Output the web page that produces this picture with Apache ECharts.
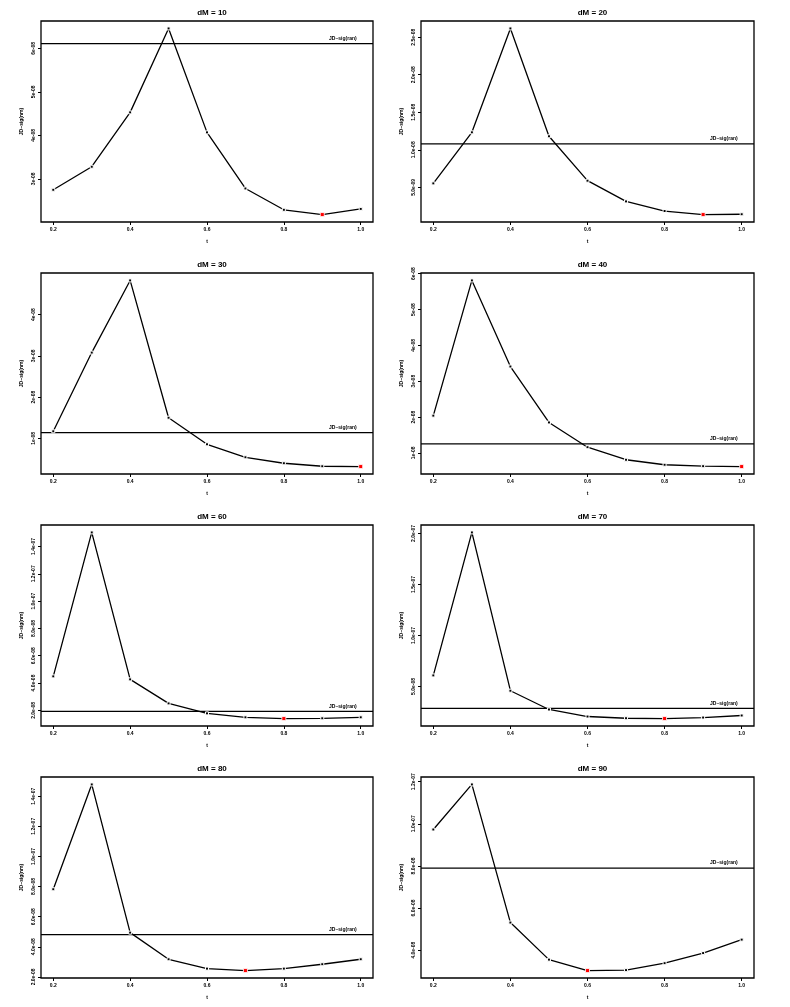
<!DOCTYPE html>
<html>
<head>
<meta charset="utf-8">
<script src="https://cdn.jsdelivr.net/npm/echarts@6/dist/echarts.min.js"></script>
<style>
  body { margin: 0; background: #fff; }
  #main { width: 790px; height: 1007px; }
</style>
</head>
<body>
<div id="main"></div>
<script>
    // x values shared by every panel
    const tVals = [0.2, 0.3, 0.4, 0.5, 0.6, 0.7, 0.8, 0.9, 1.0];
    const xTicks = [0.2, 0.4, 0.6, 0.8, 1.0];

    const titles = ['dM = 10', 'dM = 20', 'dM = 30', 'dM = 40', 'dM = 60', 'dM = 70', 'dM = 80', 'dM = 90'];

    // JD~sig(nm) per t, one array per panel
    const jdDM10 = [2.75e-8, 3.28e-8, 4.53e-8, 6.46e-8, 4.07e-8, 2.78e-8, 2.29e-8, 2.18e-8, 2.31e-8];
    const jdDM20 = [5.53e-9, 1.233e-8, 2.616e-8, 1.18e-8, 5.89e-9, 3.13e-9, 1.85e-9, 1.38e-9, 1.42e-9];
    const jdDM30 = [1.17e-8, 3.08e-8, 4.83e-8, 1.50e-8, 8.55e-9, 5.4e-9, 3.95e-9, 3.22e-9, 3.15e-9];
    const jdDM40 = [2.04e-8, 5.81e-8, 3.41e-8, 1.85e-8, 1.16e-8, 8.1e-9, 6.7e-9, 6.3e-9, 6.2e-9];
    const jdDM60 = [4.49e-8, 1.503e-7, 4.27e-8, 2.51e-8, 1.78e-8, 1.49e-8, 1.40e-8, 1.42e-8, 1.49e-8];
    const jdDM70 = [6.08e-8, 2.01e-7, 4.58e-8, 2.74e-8, 2.05e-8, 1.88e-8, 1.85e-8, 1.95e-8, 2.15e-8];
    const jdDM80 = [7.82e-8, 1.478e-7, 4.94e-8, 3.17e-8, 2.55e-8, 2.42e-8, 2.55e-8, 2.84e-8, 3.17e-8];
    const jdDM90 = [9.73e-8, 1.187e-7, 5.31e-8, 3.55e-8, 3.03e-8, 3.05e-8, 3.38e-8, 3.86e-8, 4.50e-8];

    // JD~sig(ran) reference level per panel
    const ranLevels = [6.11e-8, 1.079e-8, 1.14e-8, 1.25e-8, 1.93e-8, 2.84e-8, 4.81e-8, 7.90e-8];
    // index of the highlighted (minimum) point
    const minIdx = [7, 7, 8, 8, 6, 6, 5, 4];

    // y tick values and their labels
    const yTicks10 = [2e-8, 3e-8, 4e-8, 5e-8, 6e-8];
    const yLabs10 = ['2e-08', '3e-08', '4e-08', '5e-08', '6e-08'];
    const yTicks20 = [5e-9, 1e-8, 1.5e-8, 2e-8, 2.5e-8];
    const yLabs20 = ['5.0e-09', '1.0e-08', '1.5e-08', '2.0e-08', '2.5e-08'];
    const yTicks30 = [1e-8, 2e-8, 3e-8, 4e-8];
    const yLabs30 = ['1e-08', '2e-08', '3e-08', '4e-08'];
    const yTicks40 = [1e-8, 2e-8, 3e-8, 4e-8, 5e-8, 6e-8];
    const yLabs40 = ['1e-08', '2e-08', '3e-08', '4e-08', '5e-08', '6e-08'];
    const yTicks60 = [2e-8, 4e-8, 6e-8, 8e-8, 1e-7, 1.2e-7, 1.4e-7];
    const yLabs60 = ['2.0e-08', '4.0e-08', '6.0e-08', '8.0e-08', '1.0e-07', '1.2e-07', '1.4e-07'];
    const yTicks70 = [5e-8, 1e-7, 1.5e-7, 2e-7];
    const yLabs70 = ['5.0e-08', '1.0e-07', '1.5e-07', '2.0e-07'];
    const yTicks80 = [2e-8, 4e-8, 6e-8, 8e-8, 1e-7, 1.2e-7, 1.4e-7];
    const yLabs80 = ['2.0e-08', '4.0e-08', '6.0e-08', '8.0e-08', '1.0e-07', '1.2e-07', '1.4e-07'];
    const yTicks90 = [4e-8, 6e-8, 8e-8, 1e-7, 1.2e-7];
    const yLabs90 = ['4.0e-08', '6.0e-08', '8.0e-08', '1.0e-07', '1.2e-07'];

    const panels = [
        [jdDM10, yTicks10, yLabs10],
        [jdDM20, yTicks20, yLabs20],
        [jdDM30, yTicks30, yLabs30],
        [jdDM40, yTicks40, yLabs40],
        [jdDM60, yTicks60, yLabs60],
        [jdDM70, yTicks70, yLabs70],
        [jdDM80, yTicks80, yLabs80],
        [jdDM90, yTicks90, yLabs90]
    ];

    const font = 'Liberation Sans, Arial, sans-serif';
    const colLeft = [41, 421];
    const colWidth = [332, 333];
    const rowTop = [21, 273, 525, 777];
    const boxH = 201;
    const xMin = 0.168, xMax = 1.032;

    let grids = [], xAxes = [], yAxes = [], series = [], titleList = [];

    panels.forEach(function (p, i) {
        const data = p[0], ticks = p[1], labs = p[2];
        const col = i % 2, row = Math.floor(i / 2);
        const lo = Math.min.apply(null, data), hi = Math.max.apply(null, data);
        const pad = (hi - lo) * 0.04;

        grids.push({
            left: colLeft[col], top: rowTop[row], width: colWidth[col], height: boxH,
            show: true, borderColor: '#000', borderWidth: 1.3, backgroundColor: 'transparent'
        });
        titleList.push({
            text: titles[i],
            left: colLeft[col] + colWidth[col] / 2,
            top: rowTop[row] - 17,
            textAlign: 'center',
            textStyle: { fontFamily: font, fontSize: 8, fontWeight: 'bold', color: '#000' }
        });
        xAxes.push({
            type: 'value', gridIndex: i, min: xMin, max: xMax,
            name: 't', nameLocation: 'middle', nameGap: 17,
            nameTextStyle: { fontFamily: font, fontSize: 5, fontWeight: 'bold', color: '#000' },
            axisLine: { show: false },
            axisTick: { show: true, inside: false, length: 3, customValues: xTicks, lineStyle: { color: '#000', width: 1 } },
            axisLabel: { show: true, customValues: xTicks, fontFamily: font, fontSize: 5, fontWeight: 'bold', color: '#000', margin: 5,
                formatter: function (v) { return v.toFixed(1); } },
            splitLine: { show: false }
        });
        yAxes.push({
            type: 'value', gridIndex: i, min: lo - pad, max: hi + pad,
            name: 'JD~sig(nm)', nameLocation: 'middle', nameGap: 17,
            nameTextStyle: { fontFamily: font, fontSize: 5, fontWeight: 'bold', color: '#000' },
            axisLine: { show: false },
            axisTick: { show: true, inside: false, length: 3, customValues: ticks, lineStyle: { color: '#000', width: 1 } },
            axisLabel: { show: true, customValues: ticks, rotate: 90, fontFamily: font, fontSize: 5, fontWeight: 'bold', color: '#000', margin: 5,
                formatter: function (v) {
                    for (let k = 0; k < ticks.length; k++) {
                        if (Math.abs(ticks[k] - v) < 1e-12) return labs[k];
                    }
                    return '';
                } },
            splitLine: { show: false }
        });
        series.push({
            type: 'line', xAxisIndex: i, yAxisIndex: i,
            data: data.map(function (v, k) {
                const item = { value: [tVals[k], v] };
                if (k === minIdx[i]) {
                    item.itemStyle = { color: '#ff0000', borderWidth: 0.8 };
                    item.symbolSize = 4;
                }
                return item;
            }),
            symbol: 'rect', symbolSize: 3, showSymbol: true,
            itemStyle: { color: '#000', borderColor: '#fff', borderWidth: 1 },
            lineStyle: { color: '#000', width: 1.3 },
            z: 3
        });
        // JD~sig(ran) level drawn across the full x range of the panel
        series.push({
            type: 'line', xAxisIndex: i, yAxisIndex: i,
            data: [[xMin, ranLevels[i]], [xMax, ranLevels[i]]],
            symbol: 'none', silent: true,
            lineStyle: { color: '#000', width: 1.3 },
            endLabel: {
                show: true, formatter: 'JD~sig(ran)',
                fontFamily: font, fontSize: 5, fontWeight: 'bold', color: '#000',
                offset: [-52, -5]
            },
            z: 2
        });
    });

    const chart = echarts.init(document.getElementById('main'));
    chart.setOption({
        animation: false,
        backgroundColor: '#fff',
        title: titleList,
        grid: grids,
        xAxis: xAxes,
        yAxis: yAxes,
        series: series
    });
</script>
</body>
</html>
